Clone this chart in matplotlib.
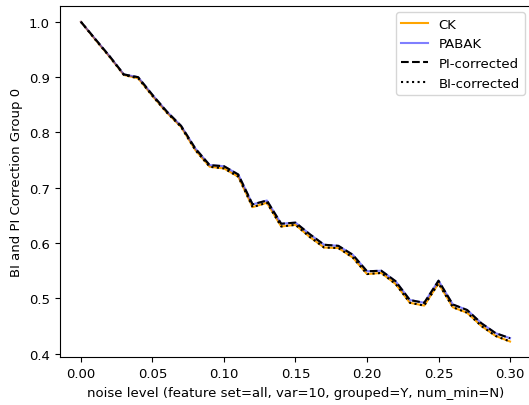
import matplotlib
matplotlib.use("Agg")
import matplotlib.pyplot as plt
import numpy as np

plt.rcParams["font.size"] = 9.5

noise = np.round(np.arange(0, 0.31, 0.01), 2)

# BI-corrected / CK (nearly identical), PI-corrected / PABAK slightly higher
bi_corrected = [1.000, 0.968, 0.937, 0.904, 0.898, 0.866, 0.836, 0.810, 0.768,
                0.738, 0.735, 0.720, 0.665, 0.673, 0.630, 0.633, 0.611, 0.592,
                0.591, 0.574, 0.544, 0.546, 0.526, 0.492, 0.487, 0.527, 0.484,
                0.474, 0.450, 0.432, 0.422]
pi_corrected = [1.000, 0.969, 0.938, 0.905, 0.900, 0.868, 0.838, 0.812, 0.771,
                0.741, 0.739, 0.724, 0.670, 0.677, 0.635, 0.637, 0.616, 0.597,
                0.595, 0.579, 0.549, 0.550, 0.531, 0.497, 0.492, 0.532, 0.489,
                0.479, 0.455, 0.437, 0.428]
ck = bi_corrected
pabak = pi_corrected

fig, ax = plt.subplots(figsize=(5.29, 4.06), dpi=100)
ax.plot(noise, ck, color="orange", label="CK")
ax.plot(noise, pabak, color="blue", alpha=0.5, label="PABAK")
ax.plot(noise, pi_corrected, color="black", linestyle="--", label="PI-corrected")
ax.plot(noise, bi_corrected, color="black", linestyle=":", label="BI-corrected")

ax.set_xlabel("noise level (feature set=all, var=10, grouped=Y, num_min=N)")
ax.set_ylabel("BI and PI Correction Group 0")
ax.legend(loc="upper right")

fig.subplots_adjust(left=0.1125, right=1.0047, top=0.983, bottom=0.117)
fig.savefig("out.png", dpi=100)
